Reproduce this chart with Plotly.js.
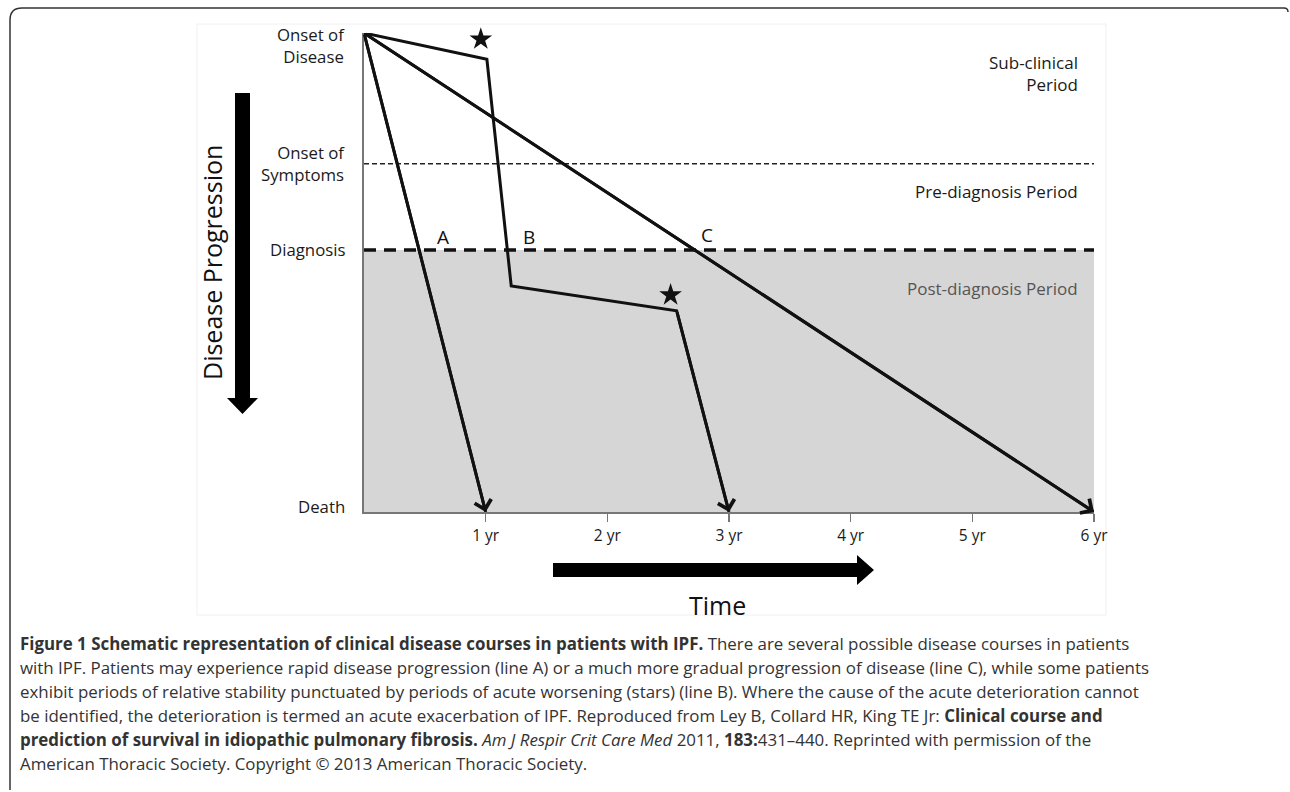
<!DOCTYPE html>
<html>
<head>
<meta charset="utf-8">
<script src="https://cdn.plot.ly/plotly-3.0.1.min.js"></script>
<style>html,body{margin:0;padding:0;background:#fff;}#chart{width:1290px;height:792px;}</style>
</head>
<body>
<div id="chart"></div>
<script>
// ---- data ----
const levelNames = ['Onset of<br>Disease', 'Onset of<br>Symptoms', 'Diagnosis', 'Death'];
const levelValues = [0, 27.3, 45.3, 100];
const xTickVals = [1, 2, 3, 4, 5, 6];
const xTickText = ['1 yr', '2 yr', '3 yr', '4 yr', '5 yr', '6 yr'];

const lineA_x = [0, 1];
const lineA_y = [0, 100];
const lineB_x = [0, 1.01, 1.21, 2.57, 3];
const lineB_y = [0, 5.5, 52.8, 58.0, 100];
const lineC_x = [0, 6];
const lineC_y = [0, 100];
const star_x = [0.96, 2.52];
const star_y = [1.3, 54.7];

const lineLabels = ['A', 'B', 'C'];
const lineLabel_x = [0.65, 1.36, 2.82];
const lineLabel_y = [42.6, 42.6, 42.2];

const periodNames = ['Sub-clinical<br>Period', 'Pre-diagnosis Period', 'Post-diagnosis Period'];
const periodY = [8.45, 33.0, 53.4];

const captionLines = [
  '<b>Figure 1 Schematic representation of clinical disease courses in patients with IPF.</b> There are several possible disease courses in patients',
  'with IPF. Patients may experience rapid disease progression (line A) or a much more gradual progression of disease (line C), while some patients',
  'exhibit periods of relative stability punctuated by periods of acute worsening (stars) (line B). Where the cause of the acute deterioration cannot',
  'be identified, the deterioration is termed an acute exacerbation of IPF. Reproduced from Ley B, Collard HR, King TE Jr: <b>Clinical course and</b>',
  '<b>prediction of survival in idiopathic pulmonary fibrosis.</b> <i>Am J Respir Crit Care Med</i> 2011, <b>183:</b>431–440. Reprinted with permission of the',
  'American Thoracic Society. Copyright © 2013 American Thoracic Society.'
];

// ---- layout helpers (pixel -> paper) ----
const ML = 364, MR = 196, MT = 33, MB = 280, W = 1290, H = 792;
const PW = W - ML - MR, PH = H - MT - MB;
const px = v => (v - ML) / PW;
const py = v => (H - MB - v) / PH;
const P = (x, y) => px(x).toFixed(5) + ',' + py(y).toFixed(5);

const FONT = 'Open Sans, sans-serif';
const lineStyle = {color: '#111', width: 3};

const traces = [
  {x: lineA_x, y: lineA_y, mode: 'lines', line: lineStyle, cliponaxis: false, hoverinfo: 'skip'},
  {x: lineB_x, y: lineB_y, mode: 'lines', line: lineStyle, cliponaxis: false, hoverinfo: 'skip'},
  {x: lineC_x, y: lineC_y, mode: 'lines', line: lineStyle, cliponaxis: false, hoverinfo: 'skip'},
  {x: star_x, y: star_y, mode: 'markers', marker: {symbol: 'star', size: 17, color: '#111'}, cliponaxis: false, hoverinfo: 'skip'}
];

const annotations = [];
// arrowheads at the end of each course
[[lineA_x, lineA_y], [lineB_x, lineB_y], [lineC_x, lineC_y]].forEach(([xs, ys]) => {
  const n = xs.length;
  annotations.push({x: xs[n-1], y: ys[n-1], ax: xs[n-2], ay: ys[n-2], axref: 'x', ayref: 'y',
    xref: 'x', yref: 'y', text: '', showarrow: true, arrowhead: 4, arrowsize: 1.1,
    arrowwidth: 3, arrowcolor: '#111'});
});
// level labels (y axis)
const levelShift = [-12, 0, 0, 6];
levelNames.forEach((t, i) => {
  annotations.push({xref: 'paper', yref: 'y', x: px(347), y: levelValues[i], yshift: levelShift[i],
    xanchor: 'right', yanchor: 'middle', align: 'right', text: t, showarrow: false,
    font: {family: FONT, size: 16.8, color: '#1a1a1a'}});
});
// course labels
lineLabels.forEach((t, i) => {
  annotations.push({xref: 'x', yref: 'y', x: lineLabel_x[i], y: lineLabel_y[i], text: t,
    xanchor: 'center', yanchor: 'middle',
    showarrow: false, font: {family: FONT, size: 19, color: '#111'}});
});
// period labels
periodNames.forEach((t, i) => {
  annotations.push({xref: 'paper', yref: 'y', x: px(1080), y: periodY[i], xanchor: 'right',
    yanchor: 'middle', align: 'right', text: t, showarrow: false,
    font: {family: FONT, size: 17, color: i === 2 ? '#555' : '#1a1a1a'}});
});
// axis titles
annotations.push({xref: 'paper', yref: 'paper', x: px(212), y: py(263), xanchor: 'center', yanchor: 'middle',
  text: 'Disease Progression', textangle: -90, showarrow: false,
  font: {family: FONT, size: 25, color: '#111'}});
annotations.push({xref: 'paper', yref: 'paper', x: px(717), y: py(605), xanchor: 'center', yanchor: 'middle',
  text: 'Time', showarrow: false, font: {family: FONT, size: 25, color: '#111'}});
// caption
const capY = [643, 667, 691, 715, 739, 763];
captionLines.forEach((t, i) => {
  annotations.push({xref: 'paper', yref: 'paper', x: px(18), y: py(capY[i]), xanchor: 'left',
    yanchor: 'middle', align: 'left', text: t, showarrow: false,
    font: {family: FONT, size: 16.9, color: '#333'}});
});

const shapes = [
  {type: 'rect', xref: 'x', yref: 'y', x0: 0, x1: 6, y0: levelValues[2], y1: levelValues[3],
    fillcolor: '#d6d6d6', line: {width: 0}, layer: 'below'},
  {type: 'line', xref: 'x', yref: 'y', x0: 0, x1: 6, y0: levelValues[1], y1: levelValues[1],
    line: {color: '#222', width: 1.5, dash: '5px,3px'}, layer: 'below'},
  {type: 'line', xref: 'x', yref: 'y', x0: 0, x1: 6, y0: levelValues[2], y1: levelValues[2],
    line: {color: '#111', width: 3.5, dash: '12px,8px'}, layer: 'below'},
  // faint image frame
  {type: 'rect', xref: 'paper', yref: 'paper', x0: px(197), x1: px(1106), y0: py(615), y1: py(24),
    line: {color: '#f0f0f0', width: 1}, layer: 'below'},
  // figure border
  {type: 'path', xref: 'paper', yref: 'paper',
    path: 'M' + P(10, 790) + 'L' + P(10, 20) + 'Q' + P(10, 8) + ' ' + P(22, 8) + 'L' + P(1284, 8) +
      'Q' + P(1288, 8) + ' ' + P(1288, 12),
    line: {color: '#333', width: 1.5}},
  // vertical arrow
  {type: 'path', xref: 'paper', yref: 'paper',
    path: 'M' + P(235, 93) + 'L' + P(250, 93) + 'L' + P(250, 398) + 'L' + P(258, 398) + 'L' +
      P(242.5, 414) + 'L' + P(227, 398) + 'L' + P(235, 398) + 'Z',
    fillcolor: '#000', line: {width: 0}},
  // horizontal arrow
  {type: 'path', xref: 'paper', yref: 'paper',
    path: 'M' + P(553, 563) + 'L' + P(857, 563) + 'L' + P(857, 555) + 'L' + P(874, 570) + 'L' +
      P(857, 585) + 'L' + P(857, 577) + 'L' + P(553, 577) + 'Z',
    fillcolor: '#000', line: {width: 0}}
];

const layout = {
  width: W, height: H,
  margin: {l: ML, r: MR, t: MT, b: MB, pad: 0},
  paper_bgcolor: '#fff', plot_bgcolor: 'rgba(0,0,0,0)',
  showlegend: false,
  font: {family: FONT, color: '#111'},
  xaxis: {range: [0, 6], showgrid: false, zeroline: false, showline: true, linecolor: '#777',
    linewidth: 2, ticks: 'outside', ticklen: 8, tickwidth: 1.5, tickcolor: '#777',
    tickvals: xTickVals, ticktext: xTickText, tickfont: {family: FONT, size: 15.5, color: '#1a1a1a'},
    fixedrange: true},
  yaxis: {range: [100, 0], showgrid: false, zeroline: false, showline: true, linecolor: '#777',
    linewidth: 2, ticks: '', showticklabels: false, fixedrange: true},
  shapes: shapes,
  annotations: annotations
};

Plotly.newPlot('chart', traces, layout, {displayModeBar: false, staticPlot: true});
</script>
</body>
</html>
